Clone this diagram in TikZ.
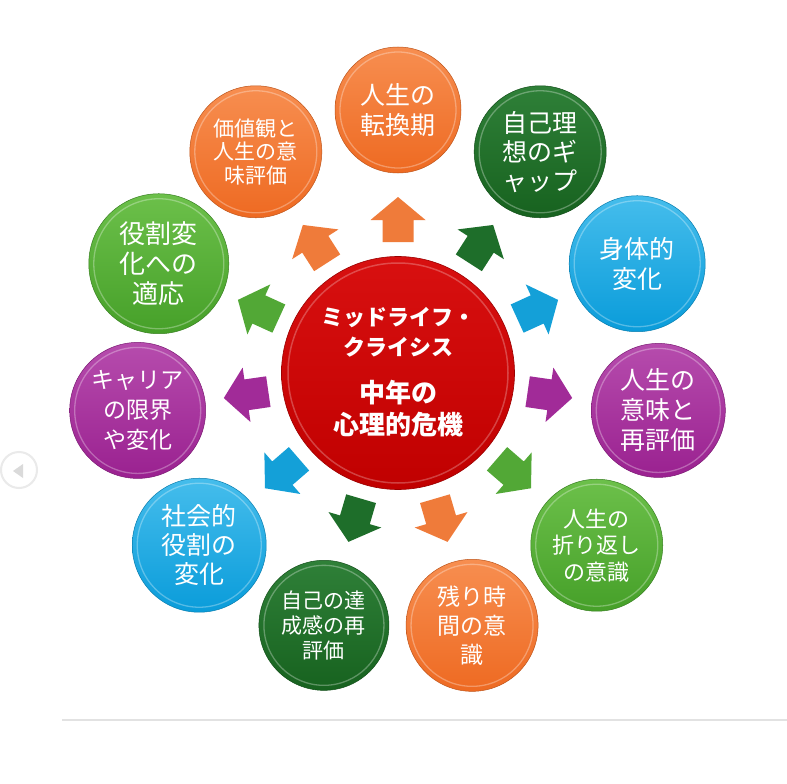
\documentclass[tikz,border=0pt]{standalone}
\usepackage{fontspec}
\setmainfont{Noto Sans CJK JP}
\definecolor{orT}{HTML}{F78E50}
\definecolor{orB}{HTML}{EE6A22}
\definecolor{orA}{HTML}{EF7B3A}
\definecolor{dgT}{HTML}{2F8038}
\definecolor{dgB}{HTML}{17621F}
\definecolor{dgA}{HTML}{1E6E2A}
\definecolor{blT}{HTML}{45BDEC}
\definecolor{blB}{HTML}{0A9CDA}
\definecolor{blA}{HTML}{14A0D8}
\definecolor{puT}{HTML}{B64CAD}
\definecolor{puB}{HTML}{9A2190}
\definecolor{puA}{HTML}{A12B98}
\definecolor{grT}{HTML}{6CC04A}
\definecolor{grB}{HTML}{46A029}
\definecolor{grA}{HTML}{52A836}
\definecolor{rdT}{HTML}{D81010}
\definecolor{rdB}{HTML}{C00000}
\definecolor{lineGray}{HTML}{E2E2E2}
\definecolor{btnGray}{HTML}{EAEAEA}
\definecolor{triGray}{HTML}{DADADA}
\newcommand\MyBub[8]{%
  \node[bubble, minimum size={2*#3pt}, top color=#4T, bottom color=#4B,
        draw=#4B!80!black, font=\fontsize{#5}{#6}\selectfont] (#1) at (#2:263) {#8};
  \draw[white, opacity=0.3, line width=1.3pt] (#1.center) circle[radius=#3-5];
}
\tikzset{
  bubble/.style={circle, inner sep=0pt, line width=0.5pt, text=white, align=center},
  blockarrow/.style={line width=0pt}
}
\begin{document}
\begin{tikzpicture}[x=1pt,y=1pt]
\useasboundingbox (0,0) rectangle (787,-784);
\fill[white] (0,0) rectangle (787,-784);
% separator line
\coordinate (l1) at (62,-720);
\coordinate (l2) at (787,-720);
\draw[lineGray, line width=1.2pt] (l1) -- (l2);
% carousel button
\node[circle, draw=btnGray, line width=2pt, minimum size=36pt, inner sep=0pt] (btn) at (19,-470) {};
\fill[triGray] (13,-471) -- (23,-464) -- (23,-478) -- cycle;
\begin{scope}[shift={(398,-373)}]
  % arrows
  \foreach \k/\col in {0/orA,1/dgA,2/blA,3/puA,4/grA,5/orA,6/dgA,7/blA,8/puA,9/grA,10/orA}{
    \pgfmathsetmacro\ang{90-\k*360/11}
    \fill[\col, shift={(\ang:153)}, rotate=\ang]
      (-22,-15.5) -- (0,-15.5) -- (0,-27.5) -- (23,0) -- (0,27.5) -- (0,15.5) -- (-22,15.5) -- cycle;
  }
  % outer bubbles
  \MyBub{b0}{90}{63}{or}{25}{30}{}{人生の\\転換期}
  \MyBub{b1}{57.27}{66}{dg}{25}{29}{}{自己理\\想のギ\\ャップ}
  \MyBub{b2}{24.55}{68}{bl}{25}{30}{}{身体的\\変化}
  \MyBub{b3}{-8.18}{67}{pu}{25}{30}{}{人生の\\意味と\\再評価}
  \MyBub{b4}{-40.91}{66}{gr}{22}{26.5}{}{人生の\\折り返し\\の意識}
  \MyBub{b5}{-73.64}{66}{or}{23}{29}{}{残り時\\間の意\\識}
  \MyBub{b6}{-106.36}{65}{dg}{21}{25}{}{自己の達\\成感の再\\評価}
  \MyBub{b7}{-139.09}{67}{bl}{25}{29}{}{社会的\\役割の\\変化}
  \MyBub{b8}{-171.82}{68}{pu}{23}{30}{}{キャリア\\の限界\\や変化}
  \MyBub{b9}{155.45}{70}{gr}{26}{30}{}{役割変\\化への\\適応}
  \MyBub{b10}{122.73}{66}{or}{21}{23.5}{}{価値観と\\人生の意\\味評価}
  % center
  \node[circle, inner sep=0pt, minimum size=233pt, top color=rdT, bottom color=rdB,
        draw=rdB!80!black, line width=0.6pt] (ctr) at (0,0) {};
  \draw[white, opacity=0.25, line width=1.5pt] (ctr.center) circle[radius=110];
  \node[text=white, align=center, font=\bfseries\fontsize{22}{30}\selectfont] (ct1) at (0,41) {ミッドライフ・\\クライシス};
  \node[text=white, align=center, font=\bfseries\fontsize{26}{32}\selectfont] (ct2) at (0,-36) {中年の\\心理的危機};
\end{scope}
\end{tikzpicture}
\end{document}
